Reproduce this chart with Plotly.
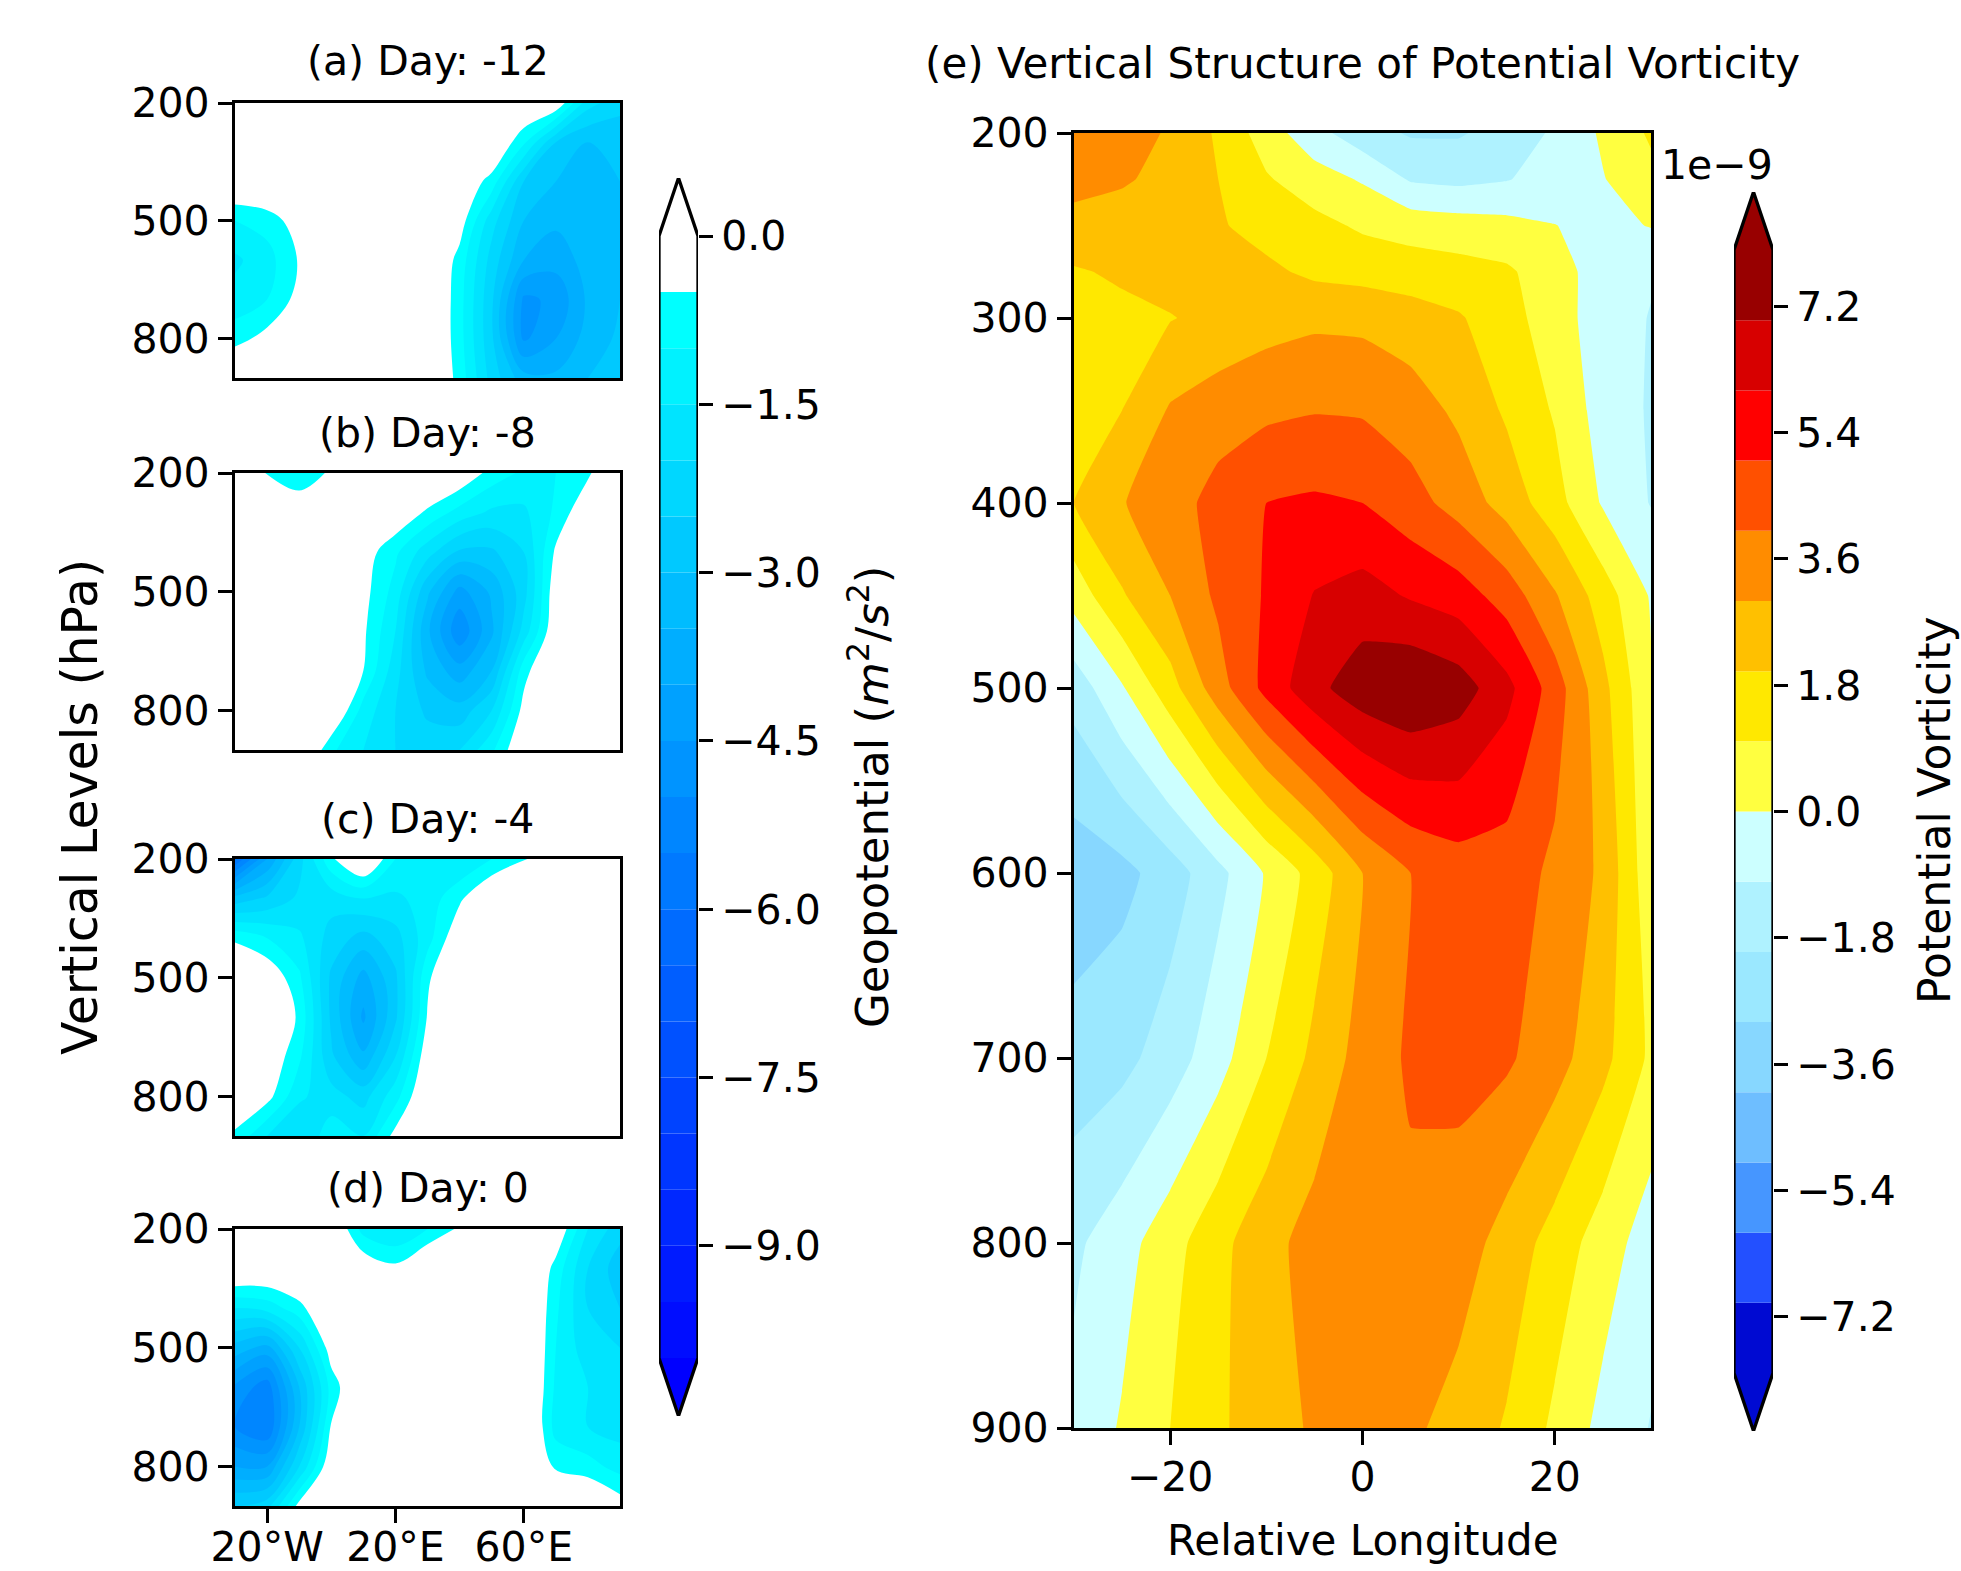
import plotly.graph_objects as go

W, H = 1961, 1571
FONT = "DejaVu Sans"

# ---------------- data ----------------
geo_lon = [-30, -20, -10, 0, 10, 20, 30, 40, 50, 60, 70, 80, 90]
geo_lev = [200, 300, 400, 500, 600, 700, 800, 900]

geo_a = [
    [0.5, 0.6, 0.8, 1.0, 1.0, 1.0, 1.0, 1.0, 0.6, 0.2, 0.0, -1.8, -2.3],
    [0.5, 0.6, 0.8, 1.0, 1.0, 1.0, 0.8, 0.3, 0.2, -0.9, -2.5, -3.0, -2.9],
    [0.2, 0.3, 0.5, 0.8, 0.8, 0.8, 0.5, 0.0, -0.7, -2.5, -3.0, -3.2, -3.0],
    [-1.0, -0.8, -0.2, 0.5, 0.8, 0.8, 0.4, -0.2, -1.8, -3.0, -3.4, -3.3, -3.0],
    [-1.6, -1.2, -0.45, 0.3, 0.8, 0.8, 0.3, -0.7, -2.2, -3.5, -3.8, -3.3, -3.0],
    [-1.3, -1.0, -0.3, 0.4, 0.8, 0.8, 0.3, -0.8, -2.4, -4.6, -4.4, -3.4, -3.0],
    [-0.7, -0.3, 0.2, 0.6, 0.8, 0.8, 0.3, -0.8, -2.4, -4.6, -4.0, -3.3, -2.9],
    [0.3, 0.5, 0.6, 0.8, 0.8, 0.8, 0.3, -0.7, -2.2, -3.3, -3.4, -3.0, -2.7],
]
geo_b = [
    [0.3, -0.55, -0.9, -0.4, 0.8, 0.6, 0.3, 0.0, -0.7, -1.1, -1.0, -0.6, 0.3],
    [0.5, 0.5, 0.0, 0.5, 0.6, 0.0, -0.6, -1.2, -1.6, -1.6, -0.9, 0.0, 0.4],
    [0.5, 0.5, 0.5, 0.5, -0.2, -0.9, -1.8, -2.6, -2.6, -2.0, -0.4, 0.3, 0.5],
    [0.5, 0.5, 0.5, 0.5, -0.3, -1.2, -2.9, -4.2, -3.4, -2.2, -0.1, 0.4, 0.5],
    [0.5, 0.5, 0.5, 0.4, -0.4, -1.5, -3.4, -4.9, -3.6, -1.8, 0.0, 0.5, 0.5],
    [0.5, 0.5, 0.5, 0.3, -0.5, -1.8, -3.1, -3.8, -3.0, -0.7, 0.3, 0.5, 0.5],
    [0.5, 0.5, 0.5, 0.2, -1.2, -2.0, -2.6, -2.8, -2.0, -0.3, 0.5, 0.5, 0.5],
    [0.5, 0.5, 0.4, -0.9, -1.5, -2.0, -2.2, -2.0, -1.1, 0.1, 0.5, 0.5, 0.5],
]
geo_c = [
    [-6.0, -4.0, -2.2, -0.6, 0.3, -1.0, -1.3, -1.5, -1.0, -0.6, 0.3, 0.5, 0.5],
    [-2.8, -2.4, -1.9, -1.8, -1.5, -1.6, -1.3, -0.6, 0.2, 0.5, 0.5, 0.5, 0.5],
    [-0.6, -1.0, -1.4, -2.2, -2.7, -2.2, -1.2, 0.0, 0.5, 0.5, 0.5, 0.5, 0.5],
    [0.3, 0.0, -0.9, -2.6, -3.7, -2.6, -0.6, 0.3, 0.5, 0.5, 0.5, 0.5, 0.5],
    [0.5, 0.3, -0.6, -2.6, -4.1, -2.6, -0.45, 0.4, 0.5, 0.5, 0.5, 0.5, 0.5],
    [0.3, 0.0, -0.9, -2.4, -3.4, -2.0, -0.1, 0.5, 0.5, 0.5, 0.5, 0.5, 0.5],
    [0.0, -0.3, -1.4, -1.8, -2.2, -1.2, 0.2, 0.5, 0.5, 0.5, 0.5, 0.5, 0.5],
    [-0.6, -1.5, -2.0, -1.2, -1.5, -0.3, 0.5, 0.5, 0.5, 0.5, 0.5, 0.5, 0.5],
]
geo_d = [
    [0.5, 0.5, 0.5, 0.2, -1.2, -1.5, -1.0, -0.4, 0.5, 0.3, 0.0, -1.5, -2.3],
    [0.3, 0.2, 0.4, 0.6, 0.0, -0.35, 0.3, 0.5, 0.5, 0.5, -0.7, -2.0, -2.8],
    [-1.5, -1.3, -0.7, 0.3, 0.5, 0.5, 0.5, 0.5, 0.5, 0.5, -0.9, -2.0, -2.5],
    [-3.2, -3.7, -2.0, -0.2, 0.4, 0.5, 0.5, 0.5, 0.5, 0.5, -1.0, -1.8, -2.0],
    [-4.6, -5.3, -3.0, -0.8, 0.3, 0.5, 0.5, 0.5, 0.5, 0.5, -1.1, -1.5, -1.8],
    [-5.0, -5.5, -3.0, -0.45, 0.3, 0.5, 0.5, 0.5, 0.5, 0.5, -1.2, -1.5, -1.7],
    [-4.0, -4.0, -2.0, 0.0, 0.4, 0.5, 0.5, 0.5, 0.5, 0.5, -0.6, -0.8, -1.2],
    [-2.5, -2.2, -0.3, 0.4, 0.5, 0.5, 0.5, 0.5, 0.5, 0.5, 0.3, 0.3, -0.2],
]
geo_titles = ["(a) Day: -12", "(b) Day: -8", "(c) Day: -4", "(d) Day: 0"]
geo_xticks = [-20, 20, 60]
geo_xticktext = ["20°W", "20°E", "60°E"]
geo_yticks = [200, 500, 800]

pv_lon = [-30, -25, -20, -15, -10, -5, 0, 5, 10, 15, 20, 25, 30]
pv_lev = [200, 225, 250, 275, 300, 350, 400, 450, 500, 600, 700, 800, 900]
pv = [
    [3.7, 3.4, 2.9, 1.85, 0.5, -0.65, -1.6, -2.1, -2.1, -1.6, -0.85, 0.15, 1.15],
    [3.3, 3.1, 2.75, 2.0, 1.1, 0.45, -0.1, -1.1, -1.25, -1.05, -0.6, -0.05, 0.7],
    [2.7, 2.6, 2.45, 2.1, 1.65, 1.3, 0.85, 0.6, 0.45, 0.3, 0.02, -0.3, 0.05],
    [1.9, 2.15, 2.4, 2.5, 2.2, 1.8, 1.65, 1.5, 1.35, 1.15, 0.45, -0.5, -0.9],
    [1.6, 1.75, 1.95, 2.3, 2.6, 2.8, 2.75, 2.45, 2.1, 1.4, 0.45, -0.5, -1.05],
    [1.5, 2.0, 3.1, 3.5, 3.8, 3.95, 3.9, 3.5, 2.8, 1.85, 0.9, -0.45, -1.1],
    [2.0, 2.95, 3.5, 4.4, 5.0, 5.15, 5.0, 4.4, 3.6, 2.6, 1.4, -0.1, -1.05],
    [0.4, 1.9, 3.0, 4.2, 5.1, 6.05, 6.4, 5.9, 5.5, 4.55, 3.1, 1.5, -0.1],
    [-1.6, -0.1, 1.6, 3.55, 5.3, 6.7, 7.6, 7.95, 7.5, 6.3, 4.5, 2.3, 0.1],
    [-3.6, -3.3, -2.5, -1.3, 0.1, 1.4, 3.0, 4.0, 4.5, 4.5, 3.8, 2.8, 0.3],
    [-2.6, -2.3, -1.5, -0.4, 1.0, 2.25, 3.4, 4.15, 4.3, 4.15, 3.4, 2.3, 0.8],
    [-1.2, -0.4, 0.6, 1.7, 2.65, 3.4, 3.7, 3.75, 3.5, 2.6, 1.6, 0.5, -0.5],
    [-0.7, 0.1, 1.0, 1.85, 2.5, 3.15, 3.35, 3.2, 2.6, 1.9, 0.8, -0.3, -1.05],
]
pv_xticks = [-20, 0, 20]
pv_xticktext = ["\u221220", "0", "20"]
pv_yticks = [200, 300, 400, 500, 600, 700, 800, 900]

# contour levels
geo_start, geo_end, geo_step = -10.0, 0.0, 0.5
pv_start, pv_end, pv_step = -8.0, 8.0, 1.0

geo_cb_ticks = [0.0, -1.5, -3.0, -4.5, -6.0, -7.5, -9.0]
pv_cb_ticks = [-7.2, -5.4, -3.6, -1.8, 0.0, 1.8, 3.6, 5.4, 7.2]

# band colours (below start, internal bands..., above end)
geo_n_inner = int(round((geo_end - geo_start) / geo_step))  # 20
geo_colors = ["rgb(0,0,255)"]
for j in range(1, geo_n_inner):
    geo_colors.append("rgb(0,%d,255)" % round(255 * j / (geo_n_inner - 1)))
geo_colors += ["rgb(255,255,255)", "rgb(255,255,255)"]

pv_colors = [
    "rgb(0,10,210)",
    "rgb(0,10,210)", "rgb(35,80,255)", "rgb(70,150,255)", "rgb(110,190,255)",
    "rgb(135,215,255)", "rgb(155,232,255)", "rgb(175,242,255)", "rgb(204,255,255)",
    "rgb(255,255,64)", "rgb(255,232,0)", "rgb(255,192,0)", "rgb(255,140,0)",
    "rgb(255,80,0)", "rgb(255,0,0)", "rgb(215,0,0)", "rgb(152,0,0)",
    "rgb(152,0,0)",
]


def band_scale(colors):
    n = len(colors)
    return [[i / (n - 1), c] for i, c in enumerate(colors)]


fig = go.Figure()


# ---------------- geometry (pixels) ----------------
def px_x(a, b):
    return [a / W, b / W]


def px_y(top, bottom):
    return [1 - bottom / H, 1 - top / H]


left_x = px_x(235, 620)
left_tops = [103, 473, 859, 1229]
left_bots = [378, 750, 1136, 1506]
right_x = px_x(1074, 1651)
right_y = px_y(133, 1428)

LW = 3.3
TL = 14
TICKFONT = dict(family=FONT, size=41, color="black")

layout = dict(
    width=W, height=H, autosize=False,
    margin=dict(l=0, r=0, t=0, b=0, pad=0, autoexpand=False),
    paper_bgcolor="white", plot_bgcolor="white",
    showlegend=False,
    font=dict(family=FONT, color="black"),
    barmode="overlay",
)

fields = [geo_a, geo_b, geo_c, geo_d]
for i, z in enumerate(fields):
    k = i + 1
    xa = "x" if k == 1 else "x%d" % k
    ya = "y" if k == 1 else "y%d" % k
    fig.add_trace(go.Contour(
        x=geo_lon, y=geo_lev, z=z,
        xaxis=xa, yaxis=ya,
        autocontour=False,
        contours=dict(start=geo_start, end=geo_end, size=geo_step,
                      coloring="fill", showlines=False),
        line=dict(width=0, smoothing=1.0),
        colorscale=band_scale(geo_colors),
        showscale=False, hoverinfo="skip",
    ))
    last = (k == 4)
    layout["xaxis" if k == 1 else "xaxis%d" % k] = dict(
        domain=left_x, anchor=ya, range=[-30, 90], automargin=False,
        showline=True, mirror=True, linecolor="black", linewidth=LW,
        showgrid=False, zeroline=False,
        ticks="outside" if last else "", ticklen=TL, tickwidth=LW, tickcolor="black",
        tickvals=geo_xticks if last else [], ticktext=geo_xticktext if last else [],
        showticklabels=last, tickfont=TICKFONT, ticklabelstandoff=-11,
    )
    layout["yaxis" if k == 1 else "yaxis%d" % k] = dict(
        domain=px_y(left_tops[i], left_bots[i]), anchor=xa, range=[900, 200],
        automargin=False,
        showline=True, mirror=True, linecolor="black", linewidth=LW,
        showgrid=False, zeroline=False,
        ticks="outside", ticklen=TL, tickwidth=LW, tickcolor="black",
        tickvals=geo_yticks, ticktext=[str(v) for v in geo_yticks],
        tickfont=TICKFONT,
    )

# right panel
fig.add_trace(go.Contour(
    x=pv_lon, y=pv_lev, z=pv,
    xaxis="x5", yaxis="y5",
    autocontour=False,
    contours=dict(start=pv_start, end=pv_end, size=pv_step,
                  coloring="fill", showlines=False),
    line=dict(width=0, smoothing=0.3),
    colorscale=band_scale(pv_colors),
    showscale=False, hoverinfo="skip",
))
layout["xaxis5"] = dict(
    domain=right_x, anchor="y5", range=[-30, 30], automargin=False,
    showline=True, mirror=True, linecolor="black", linewidth=LW,
    showgrid=False, zeroline=False,
    ticks="outside", ticklen=TL, tickwidth=LW, tickcolor="black",
    tickvals=pv_xticks, ticktext=pv_xticktext, tickfont=TICKFONT,
    ticklabelstandoff=-3,
)
layout["yaxis5"] = dict(
    domain=right_y, anchor="x5", range=[900, 200], automargin=False,
    showline=True, mirror=True, linecolor="black", linewidth=LW,
    showgrid=False, zeroline=False,
    ticks="outside", ticklen=TL, tickwidth=LW, tickcolor="black",
    tickvals=pv_yticks, ticktext=[str(v) for v in pv_yticks], tickfont=TICKFONT,
)


# ---------------- custom colorbars ----------------
def add_colorbar(k, start, end, step, colors, ticks, ticktext, xdom, body_top, body_bot, ext_px):
    xa, ya = "x%d" % k, "y%d" % k
    n_inner = int(round((end - start) / step))
    lows = [start + step * j for j in range(n_inner)]
    inner_cols = colors[1:1 + n_inner]
    fig.add_trace(go.Bar(
        x=[0.5] * n_inner, y=[step] * n_inner, base=lows, width=1.0,
        marker=dict(color=inner_cols, line=dict(width=0)),
        xaxis=xa, yaxis=ya, hoverinfo="skip",
    ))
    unit_px = (body_bot - body_top) / (end - start)
    ext = ext_px / unit_px
    fig.add_trace(go.Scatter(
        x=[0, 1, 0.5, 0], y=[end, end, end + ext, end], mode="lines",
        fill="toself", fillcolor=colors[-1], line=dict(width=0),
        xaxis=xa, yaxis=ya, hoverinfo="skip",
    ))
    fig.add_trace(go.Scatter(
        x=[0, 1, 0.5, 0], y=[start, start, start - ext, start], mode="lines",
        fill="toself", fillcolor=colors[0], line=dict(width=0),
        xaxis=xa, yaxis=ya, hoverinfo="skip",
    ))
    fig.add_trace(go.Scatter(
        x=[0, 0, 0.5, 1, 1, 0.5, 0],
        y=[start, end, end + ext, end, start, start - ext, start],
        mode="lines", line=dict(color="black", width=LW),
        xaxis=xa, yaxis=ya, hoverinfo="skip",
    ))
    lo, hi = start - ext, end + ext
    top_px = body_top - ext_px
    bot_px = body_bot + ext_px
    layout["xaxis%d" % k] = dict(domain=xdom, anchor=ya, range=[0, 1],
                                  visible=False, fixedrange=True, automargin=False)
    layout["yaxis%d" % k] = dict(
        domain=px_y(top_px, bot_px), anchor=xa, range=[lo, hi], side="right",
        automargin=False,
        showline=False, showgrid=False, zeroline=False,
        ticks="outside", ticklen=TL, tickwidth=LW, tickcolor="black",
        tickvals=ticks, ticktext=ticktext, tickfont=TICKFONT,
    )


def fmt(v):
    s = "%.1f" % abs(v)
    return ("\u2212" + s) if v < 0 else s


add_colorbar(6, geo_start, geo_end, geo_step, geo_colors, geo_cb_ticks,
             [fmt(v) for v in geo_cb_ticks], px_x(659, 698), 236, 1358, 58)
add_colorbar(7, pv_start, pv_end, pv_step, pv_colors, pv_cb_ticks,
             [fmt(v) for v in pv_cb_ticks], px_x(1734, 1773), 250, 1373, 58)

# ---------------- text ----------------
ann = []
title_centers = [61, 433, 819, 1188]
for t, cy in zip(geo_titles, title_centers):
    ann.append(dict(text=t, x=427.5 / W, y=1 - cy / H, xref="paper", yref="paper",
                    xanchor="center", yanchor="middle", showarrow=False,
                    font=dict(family=FONT, size=41, color="black")))
ann.append(dict(text="(e) Vertical Structure of Potential Vorticity",
                x=1362.5 / W, y=1 - 64 / H, xref="paper", yref="paper",
                xanchor="center", yanchor="middle", showarrow=False,
                font=dict(family=FONT, size=42, color="black")))
ann.append(dict(text="Vertical Levels (hPa)", x=81 / W, y=1 - 807 / H,
                xref="paper", yref="paper", textangle=-90,
                xanchor="center", yanchor="middle", showarrow=False,
                font=dict(family=FONT, size=49, color="black")))
ann.append(dict(text="Geopotential (<i>m</i><sup>2</sup>/<i>s</i><sup>2</sup>)",
                x=869 / W, y=1 - 797 / H, xref="paper", yref="paper", textangle=-90,
                xanchor="center", yanchor="middle", showarrow=False,
                font=dict(family=FONT, size=45, color="black")))
ann.append(dict(text="Potential Vorticity", x=1934 / W, y=1 - 810 / H,
                xref="paper", yref="paper", textangle=-90,
                xanchor="center", yanchor="middle", showarrow=False,
                font=dict(family=FONT, size=44, color="black")))
ann.append(dict(text="Relative Longitude", x=1363 / W, y=1 - 1540 / H,
                xref="paper", yref="paper",
                xanchor="center", yanchor="middle", showarrow=False,
                font=dict(family=FONT, size=42, color="black")))
ann.append(dict(text="1e\u22129", x=1717 / W, y=1 - 165 / H,
                xref="paper", yref="paper",
                xanchor="center", yanchor="middle", showarrow=False,
                font=dict(family=FONT, size=41, color="black")))
layout["annotations"] = ann

fig.update_layout(**layout)
fig.write_html("out.html",
               config={"displayModeBar": False},
               post_script="document.body.style.margin='0px';document.body.style.overflow='hidden';")
